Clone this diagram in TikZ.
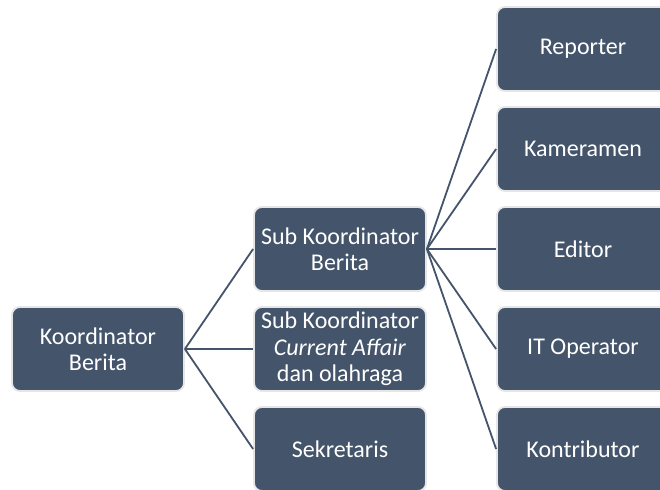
\documentclass[tikz,border=0pt]{standalone}
\usepackage{fontspec}
\setmainfont{Carlito}
\definecolor{boxfill}{HTML}{44546A}
\definecolor{boxedge}{HTML}{E6E6E6}
\begin{document}
\begin{tikzpicture}[x=1pt,y=-1pt,
  orgbox/.style={draw=boxedge, line width=1.8pt, fill=boxfill, rounded corners=8pt,
    minimum width=172pt, minimum height=84pt, inner sep=0pt, align=center,
    text=white, font=\fontsize{24pt}{26.3pt}\selectfont},
  link/.style={draw=boxfill, line width=1.8pt}]
\clip (0,0) rectangle (660,489);
\fill[white] (0,0) rectangle (660,489);
\node[orgbox] (kb) at (98,349) {Koordinator\\Berita};
\node[orgbox] (skb) at (340,249) {Sub Koordinator\\Berita};
\node[orgbox] (skc) at (340,349) {Sub Koordinator\\\textit{Current Affair}\\dan olahraga};
\node[orgbox] (sek) at (340,449) {Sekretaris};
\node[orgbox] (rep) at (583,49) {Reporter};
\node[orgbox] (kam) at (583,149) {Kameramen};
\node[orgbox] (edi) at (583,249) {Editor};
\node[orgbox] (ito) at (583,349) {IT Operator};
\node[orgbox] (kon) at (583,449) {Kontributor};
\foreach \t in {skb,skc,sek} \draw[link] (kb.east) -- (\t.west);
\foreach \t in {rep,kam,edi,ito,kon} \draw[link] (skb.east) -- (\t.west);
\end{tikzpicture}
\end{document}
